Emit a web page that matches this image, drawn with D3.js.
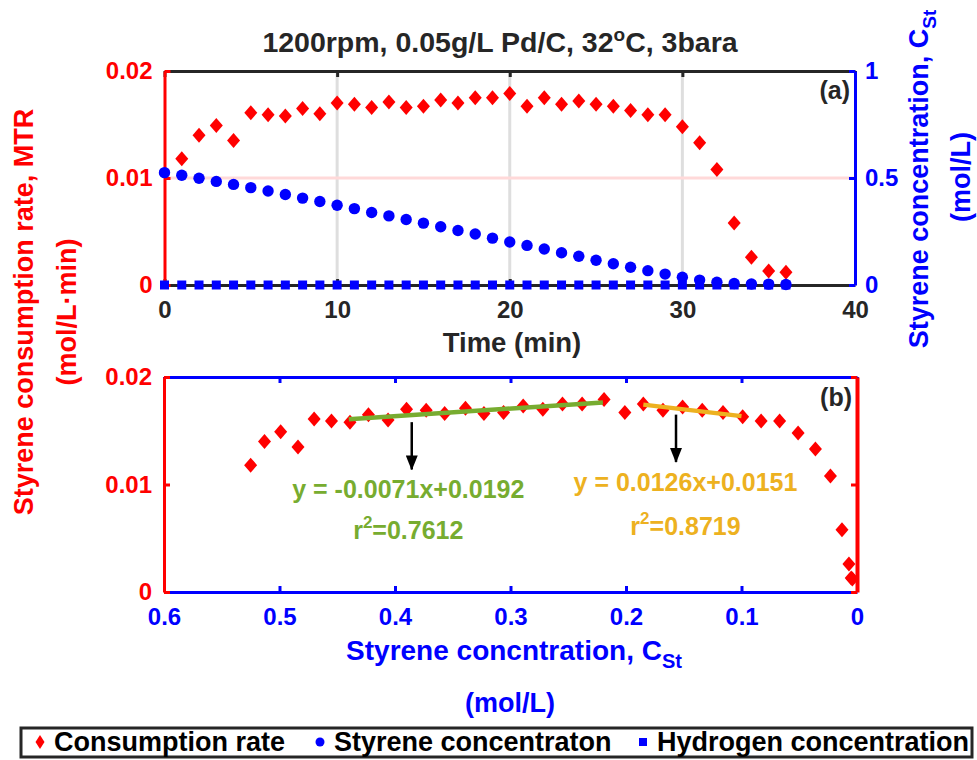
<!DOCTYPE html>
<meta charset="utf-8">
<style>
  body { margin: 0; background: #fff; }
  svg { font-family: Arial, 'Liberation Sans', sans-serif; font-weight: bold; }
</style>
<body>
<div id="chart"></div>
<script src="https://d3js.org/d3.v7.min.js"></script>
<script>
// ---- data ----
var time = [0,1,2,3,4,5,6,7,8,9,10,11,12,13,14,15,16,17,18,19,20,21,22,23,24,25,26,27,28,29,30,31,32,33,34,35,36];
// consumption rate starts at t = 1 min
var rateTime = [1,2,3,4,5,6,7,8,9,10,11,12,13,14,15,16,17,18,19,20,21,22,23,24,25,26,27,28,29,30,31,32,33,34,35,36];
var rate = [0.0118,0.0140,0.0149,0.0135,0.0161,0.0159,0.0158,0.0165,0.0160,0.0170,0.0169,0.0166,0.0171,0.0166,0.0167,0.0173,
            0.0170,0.0175,0.0175,0.0179,0.0167,0.0175,0.0169,0.0172,0.0169,0.0167,0.0163,0.0159,0.0159,0.0148,0.0133,0.0108,
            0.0058,0.0026,0.0013,0.0012];
var styrene = [0.525,0.513,0.499,0.484,0.470,0.455,0.439,0.423,0.406,0.390,0.373,0.357,0.339,0.323,0.306,0.289,0.272,0.255,
               0.238,0.219,0.201,0.185,0.168,0.151,0.134,0.116,0.099,0.083,0.067,0.051,0.036,0.023,0.013,0.007,0.005,0.004,0.002];
var hydrogen = [0,0,0,0,0,0,0,0,0,0,0,0,0,0,0,0,0,0,0,0,0,0,0,0,0,0,0,0,0,0,0,0,0,0,0,0,0];

// linear fits in panel (b): [slope, intercept], x range
var fitGreen = [-0.0071, 0.0192], fitGreenRange = [0.44, 0.22];
var fitOrange = [0.0126, 0.0151], fitOrangeRange = [0.185, 0.10];
// arrows: [x, yStart, yEnd] in data units of panel (b)
var arrowGreen = [0.3855, 0.0158, 0.0114];
var arrowOrange = [0.1567, 0.0165, 0.0121];

var timeTicks = [0, 10, 20, 30, 40];
var rateTicks = [0, 0.01, 0.02];
var concTicks = [0, 0.5, 1];
var cstTicks = [0.6, 0.5, 0.4, 0.3, 0.2, 0.1, 0];

var RED = "#ff0000", BLUE = "#0000ff", DARK = "#262626", GREEN = "#77ac30", ORANGE = "#edb120";

var svg = d3.select("#chart").append("svg")
  .attr("width", 977).attr("height", 760);

// ---- scales ----
var xA = d3.scaleLinear().domain([0, 40]).range([164.5, 855]);
var yAL = d3.scaleLinear().domain([0, 0.02]).range([285, 71]);
var yAR = d3.scaleLinear().domain([0, 1]).range([285, 71]);
var xB = d3.scaleLinear().domain([0.6, 0]).range([164, 857]);
var yB = d3.scaleLinear().domain([0, 0.02]).range([592, 377]);

function styleAxis(g, color, width, labels) {
  g.attr("font-family", "Arial, 'Liberation Sans', sans-serif").attr("font-size", 24).attr("font-weight", "bold");
  g.select(".domain").attr("stroke", color).attr("stroke-width", width);
  g.selectAll(".tick line").attr("stroke", color).attr("stroke-width", 3);
  if (labels) g.selectAll(".tick text").attr("fill", labels);
  else g.selectAll(".tick text").remove();
}

var diamond = "M0,-7.5L6.5,0L0,7.5L-6.5,0Z";

// ---- panel (a) ----
var gA = svg.append("g");
// grid lines
gA.selectAll(".vgrid").data([10, 20, 30]).enter().append("line")
  .attr("x1", d => xA(d)).attr("x2", d => xA(d))
  .attr("y1", yAL(0.02)).attr("y2", yAL(0))
  .attr("stroke", "#dedede").attr("stroke-width", 3);
gA.append("line")
  .attr("x1", xA(0)).attr("x2", xA(40))
  .attr("y1", yAL(0.01)).attr("y2", yAL(0.01))
  .attr("stroke", "#ffd9d9").attr("stroke-width", 3);

gA.append("g").attr("transform", "translate(0,71)")
  .call(d3.axisTop(xA).tickValues(timeTicks).tickSizeInner(-6).tickSizeOuter(0))
  .call(styleAxis, DARK, 3, null);
gA.append("g").attr("transform", "translate(0,285)")
  .call(d3.axisBottom(xA).tickValues(timeTicks).tickSizeInner(-6).tickSizeOuter(0).tickPadding(16).tickFormat(d => d))
  .call(styleAxis, DARK, 3, DARK);
gA.append("g").attr("transform", "translate(164.5,0)")
  .call(d3.axisLeft(yAL).tickValues(rateTicks).tickSizeInner(-6).tickSizeOuter(0).tickPadding(12).tickFormat(d => d))
  .call(styleAxis, RED, 3, RED);
gA.append("g").attr("transform", "translate(855,0)")
  .call(d3.axisRight(yAR).tickValues(concTicks).tickSizeInner(-6).tickSizeOuter(0).tickPadding(10).tickFormat(d => d))
  .call(styleAxis, BLUE, 3, BLUE);

// markers
gA.selectAll(".rate").data(rate).enter().append("path")
  .attr("d", diamond).attr("fill", RED)
  .attr("transform", (d, i) => "translate(" + xA(rateTime[i]) + "," + yAL(d) + ")");
gA.selectAll(".sty").data(styrene).enter().append("circle")
  .attr("cx", (d, i) => xA(time[i])).attr("cy", d => yAR(d)).attr("r", 5.7).attr("fill", BLUE);
gA.selectAll(".h2").data(hydrogen).enter().append("rect")
  .attr("x", (d, i) => xA(time[i]) - 4.5).attr("y", d => yAR(d) - 4.5)
  .attr("width", 9).attr("height", 9).attr("fill", BLUE);

gA.append("text").attr("x", 850).attr("y", 99).attr("text-anchor", "end")
  .attr("font-size", 25).attr("fill", DARK).text("(a)");

// ---- panel (b) ----
var gB = svg.append("g");
gB.append("g").attr("transform", "translate(0,377)")
  .call(d3.axisTop(xB).tickValues(cstTicks).tickSizeInner(-6).tickSizeOuter(0))
  .call(styleAxis, BLUE, 3, null);
gB.append("g").attr("transform", "translate(0,592)")
  .call(d3.axisBottom(xB).tickValues(cstTicks).tickSizeInner(-6).tickSizeOuter(0).tickPadding(16).tickFormat(d => d))
  .call(styleAxis, BLUE, 3, BLUE);
gB.append("g").attr("transform", "translate(164,0)")
  .call(d3.axisLeft(yB).tickValues(rateTicks).tickSizeInner(-6).tickSizeOuter(0).tickPadding(12).tickFormat(d => d))
  .call(styleAxis, RED, 3, RED);
gB.append("g").attr("transform", "translate(857,0)")
  .call(d3.axisRight(yB).tickValues(rateTicks).tickSizeInner(-6).tickSizeOuter(0))
  .call(styleAxis, RED, 4, null);

// rate vs. concentration at the start of each interval
gB.selectAll(".rb").data(rate).enter().append("path")
  .attr("d", diamond).attr("fill", RED)
  .attr("transform", (d, i) => "translate(" + xB(styrene[i]) + "," + yB(d) + ")");

function fitLine(fit, range, color) {
  gB.append("line")
    .attr("x1", xB(range[0])).attr("y1", yB(fit[0] * range[0] + fit[1]))
    .attr("x2", xB(range[1])).attr("y2", yB(fit[0] * range[1] + fit[1]))
    .attr("stroke", color).attr("stroke-width", 4.5);
}
fitLine(fitGreen, fitGreenRange, GREEN);
fitLine(fitOrange, fitOrangeRange, ORANGE);

svg.append("defs").append("marker")
  .attr("id", "arrow").attr("viewBox", "0 0 15 12").attr("refX", 14).attr("refY", 6)
  .attr("markerWidth", 15).attr("markerHeight", 12).attr("markerUnits", "userSpaceOnUse").attr("orient", "auto")
  .append("path").attr("d", "M0,0L15,6L0,12Z").attr("fill", "#000");

[arrowGreen, arrowOrange].forEach(function(a) {
  gB.append("line")
    .attr("x1", xB(a[0])).attr("x2", xB(a[0]))
    .attr("y1", yB(a[1])).attr("y2", yB(a[2]))
    .attr("stroke", "#000").attr("stroke-width", 2.5).attr("marker-end", "url(#arrow)");
});

function eqText(x, y, color, str) {
  gB.append("text").attr("x", xB(x)).attr("y", yB(y)).attr("text-anchor", "middle")
    .attr("font-size", 25).attr("fill", color).text(str);
}
function r2Text(x, y, color, val) {
  var t = gB.append("text").attr("x", xB(x)).attr("y", yB(y)).attr("text-anchor", "middle")
    .attr("font-size", 25).attr("fill", color);
  t.append("tspan").text("r");
  t.append("tspan").attr("font-size", 17).attr("dy", -11).text("2");
  t.append("tspan").attr("dy", 11).text("=" + val);
}
eqText(0.3885, 0.0087, GREEN, "y = -0.0071x+0.0192");
r2Text(0.3885, 0.0049, GREEN, "0.7612");
eqText(0.1485, 0.0094, ORANGE, "y = 0.0126x+0.0151");
r2Text(0.1485, 0.0053, ORANGE, "0.8719");

gB.append("text").attr("x", 852).attr("y", 406).attr("text-anchor", "end")
  .attr("font-size", 25).attr("fill", DARK).text("(b)");

// ---- titles and axis labels ----
var title = svg.append("text").attr("x", 500).attr("y", 52).attr("text-anchor", "middle")
  .attr("font-size", 28.5).attr("fill", DARK);
title.append("tspan").text("1200rpm, 0.05g/L Pd/C, 32");
title.append("tspan").attr("font-size", 19).attr("dy", -11).text("o");
title.append("tspan").attr("dy", 11).text("C, 3bara");

svg.append("text").attr("x", 512).attr("y", 352).attr("text-anchor", "middle")
  .attr("font-size", 27.5).attr("fill", DARK).text("Time (min)");

svg.append("text").attr("transform", "translate(33,312) rotate(-90)").attr("text-anchor", "middle")
  .attr("font-size", 27).attr("fill", RED).text("Styrene consumption rate, MTR");
svg.append("text").attr("transform", "translate(76,312) rotate(-90)").attr("text-anchor", "middle")
  .attr("font-size", 27).attr("fill", RED).text("(mol/L\u00b7min)");

var rl = svg.append("text").attr("transform", "translate(928,179) rotate(-90)").attr("text-anchor", "middle")
  .attr("font-size", 27).attr("fill", BLUE);
rl.append("tspan").text("Styrene concentration, C");
rl.append("tspan").attr("font-size", 19).attr("dy", 8).text("St");
svg.append("text").attr("transform", "translate(970,177) rotate(-90)").attr("text-anchor", "middle")
  .attr("font-size", 27).attr("fill", BLUE).text("(mol/L)");

var bl = svg.append("text").attr("x", 514).attr("y", 660).attr("text-anchor", "middle")
  .attr("font-size", 28).attr("fill", BLUE);
bl.append("tspan").text("Styrene concntration, C");
bl.append("tspan").attr("font-size", 20).attr("dy", 8).text("St");
svg.append("text").attr("x", 510).attr("y", 712).attr("text-anchor", "middle")
  .attr("font-size", 27).attr("fill", BLUE).text("(mol/L)");

// ---- legend ----
var lg = svg.append("g");
lg.append("rect").attr("x", 21).attr("y", 728).attr("width", 951).attr("height", 29)
  .attr("fill", "#fff").attr("stroke", DARK).attr("stroke-width", 3);
var legendItems = ["Consumption rate", "Styrene concentraton", "Hydrogen concentration"];
var legendX = [40, 320, 643];
lg.append("path").attr("d", "M0,-7L4.5,0L0,7L-4.5,0Z").attr("fill", RED)
  .attr("transform", "translate(" + legendX[0] + ",742)");
lg.append("circle").attr("cx", legendX[1]).attr("cy", 742).attr("r", 4.5).attr("fill", BLUE);
lg.append("rect").attr("x", legendX[2] - 4).attr("y", 738).attr("width", 8).attr("height", 8).attr("fill", BLUE);
lg.selectAll(".lt").data(legendItems).enter().append("text")
  .attr("x", (d, i) => legendX[i] + 14).attr("y", 751)
  .attr("font-size", 27).attr("fill", "#000").text(d => d);
</script>
</body>
